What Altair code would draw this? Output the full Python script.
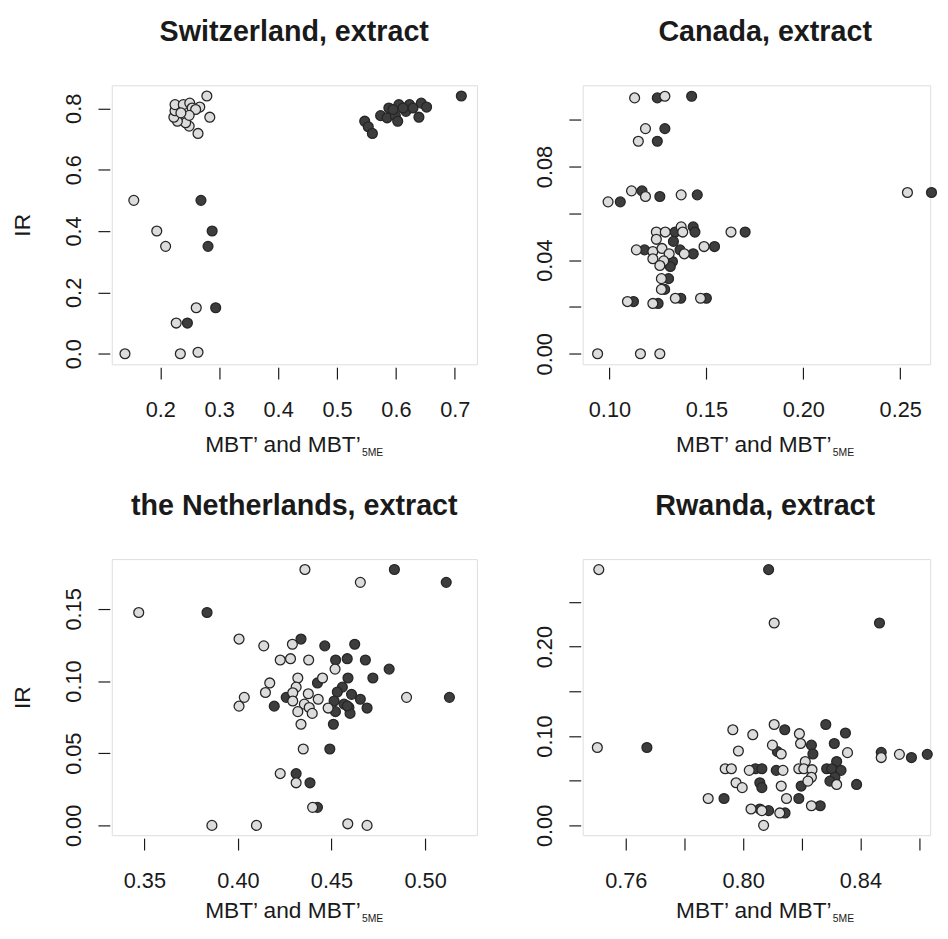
import altair as alt
import pandas as pd

FONT = "Liberation Sans"
INK = "#1a1a1a"

# ---------------- data ----------------
# Switzerland
sw_l_x = [0.140, 0.155, 0.194, 0.209, 0.227, 0.261, 0.234, 0.264, 0.279, 0.284, 0.264, 0.249,
          0.243, 0.229, 0.223, 0.225, 0.225, 0.239, 0.250, 0.254, 0.267, 0.260, 0.249, 0.235]
sw_l_y = [0.000, 0.500, 0.400, 0.350, 0.100, 0.150, 0.000, 0.005, 0.840, 0.771, 0.718, 0.742,
          0.753, 0.758, 0.771, 0.792, 0.812, 0.812, 0.817, 0.801, 0.804, 0.796, 0.777, 0.785]
sw_d_x = [0.269, 0.288, 0.281, 0.246, 0.294, 0.711, 0.547, 0.553, 0.560, 0.574, 0.585, 0.588,
          0.599, 0.603, 0.605, 0.617, 0.623, 0.629, 0.639, 0.643, 0.652, 0.612, 0.595]
sw_d_y = [0.500, 0.400, 0.350, 0.100, 0.150, 0.840, 0.758, 0.740, 0.718, 0.776, 0.769, 0.801,
          0.776, 0.758, 0.812, 0.790, 0.812, 0.801, 0.771, 0.817, 0.804, 0.801, 0.796]

# Canada
ca_l_x = [0.0939, 0.116, 0.126, 0.113, 0.1286, 0.1186, 0.1149, 0.0993, 0.1114, 0.1186, 0.137,
          0.2537, 0.1627, 0.1488, 0.1139, 0.1242, 0.1288, 0.137, 0.1378, 0.1242, 0.1224, 0.1271,
          0.1308, 0.1386, 0.1224, 0.128, 0.126, 0.1268, 0.1268, 0.1093, 0.1224, 0.134, 0.147]
ca_l_y = [0.0, 0.0, 0.0, 0.1093, 0.110, 0.0962, 0.0908, 0.0649, 0.0696, 0.0672, 0.0679,
          0.0689, 0.052, 0.0458, 0.0444, 0.052, 0.052, 0.0542, 0.052, 0.0489, 0.0437, 0.045,
          0.0427, 0.0427, 0.0406, 0.0397, 0.0377, 0.0321, 0.0275, 0.0223, 0.0215, 0.0237, 0.0237]
ca_d_x = [0.1247, 0.1424, 0.1286, 0.1247, 0.1056, 0.1168, 0.126, 0.1453, 0.2661, 0.170, 0.1542,
          0.1181, 0.1339, 0.1432, 0.1441, 0.1330, 0.1432, 0.1364, 0.1325, 0.1314, 0.1305, 0.1285,
          0.1124, 0.1251, 0.1368, 0.150]
ca_d_y = [0.1093, 0.110, 0.0962, 0.0908, 0.0649, 0.0696, 0.0672, 0.0679, 0.0689, 0.052, 0.0458,
          0.0444, 0.052, 0.0542, 0.052, 0.0480, 0.0427, 0.0444, 0.0394, 0.0373, 0.0321, 0.0275,
          0.0223, 0.0215, 0.0237, 0.0237]

# the Netherlands
nl_l_x = [0.347, 0.4358, 0.4654, 0.4006, 0.4138, 0.4291, 0.4226, 0.4281, 0.4378, 0.4519, 0.4452,
          0.432, 0.4311, 0.417, 0.4147, 0.4034, 0.4006, 0.4293, 0.4293, 0.4376, 0.4355, 0.4381,
          0.432, 0.4397, 0.4429, 0.4482, 0.4337, 0.4901, 0.4349, 0.4226, 0.4311, 0.4399, 0.3861,
          0.4099, 0.4587, 0.469]
nl_l_y = [0.1475, 0.1773, 0.1684, 0.1291, 0.1244, 0.1255, 0.1146, 0.1155, 0.1146, 0.1083, 0.1021,
          0.1021, 0.0958, 0.0987, 0.0921, 0.0887, 0.0826, 0.0919, 0.0862, 0.0912, 0.084, 0.0817,
          0.0788, 0.0776, 0.0874, 0.0813, 0.0701, 0.0887, 0.0529, 0.0359, 0.0295, 0.0125, 0.0,
          0.0, 0.0011, 0.0]
nl_d_x = [0.3835, 0.4836, 0.5113, 0.4337, 0.4464, 0.4624, 0.4522, 0.4584, 0.4681, 0.4808, 0.4721,
          0.4588, 0.4558, 0.4425, 0.4531, 0.4607, 0.4258, 0.4194, 0.4514, 0.4654, 0.4567, 0.4593,
          0.4521, 0.4599, 0.469, 0.513, 0.451, 0.4491, 0.4311, 0.4385, 0.4425, 0.4584]
nl_d_y = [0.1475, 0.1773, 0.1684, 0.1291, 0.1244, 0.1255, 0.1146, 0.1155, 0.1146, 0.1083, 0.1021,
          0.1021, 0.0958, 0.0987, 0.0924, 0.0908, 0.0887, 0.0826, 0.0862, 0.0874, 0.084, 0.0817,
          0.0788, 0.0776, 0.0813, 0.0887, 0.0701, 0.0529, 0.0359, 0.0295, 0.0125, 0.0828]

# Rwanda
rw_l_x = [0.7508, 0.7503, 0.8106, 0.8106, 0.7965, 0.8033, 0.8192, 0.8100, 0.8196, 0.8130, 0.7984,
          0.8356, 0.8471, 0.8533, 0.7939, 0.7960, 0.8021, 0.8136, 0.8190, 0.8212, 0.8207, 0.8235,
          0.8233, 0.8221, 0.7976, 0.7997, 0.8130, 0.8319, 0.8148, 0.7881, 0.8027, 0.8064, 0.8125,
          0.8233, 0.8070]
rw_l_y = [0.2863, 0.0872, 0.2265, 0.1129, 0.1070, 0.1015, 0.1026, 0.0898, 0.0916, 0.0799, 0.0832,
          0.0814, 0.0759, 0.0795, 0.0634, 0.0634, 0.0616, 0.0616, 0.0634, 0.0715, 0.0634, 0.0623,
          0.0539, 0.0495, 0.0477, 0.0422, 0.0440, 0.0458, 0.0301, 0.0301, 0.0183, 0.0165, 0.0139,
          0.0220, 0.0000]
rw_d_x = [0.8087, 0.7672, 0.8465, 0.8142, 0.8282, 0.8349, 0.8233, 0.8311, 0.8238, 0.8117, 0.8574,
          0.8628, 0.8471, 0.8042, 0.8064, 0.8113, 0.8285, 0.8319, 0.8302, 0.8334, 0.8313, 0.8296,
          0.8057, 0.8064, 0.8198, 0.8387, 0.8190, 0.7935, 0.8057, 0.8087, 0.8143, 0.8263]
rw_d_y = [0.2863, 0.0872, 0.2265, 0.1070, 0.1129, 0.1034, 0.0898, 0.0916, 0.0799, 0.0825, 0.0759,
          0.0795, 0.0817, 0.0634, 0.0634, 0.0616, 0.0634, 0.0715, 0.0634, 0.0616, 0.0539, 0.0495,
          0.0477, 0.0422, 0.0440, 0.0458, 0.0301, 0.0301, 0.0183, 0.0165, 0.0139, 0.0220]

series_names = ["MBT'", "MBT'5ME"]
series_colors = ["#dcdcdc", "#3d3d3d"]

TITLE_CX = 186.4  # panel titles are centred on the full (uncropped) panel width


def label_expr(shown, fmt):
    conds = " || ".join(f"abs(datum.value - {v}) < 1e-6" for v in shown)
    return f"({conds}) ? format(datum.value, '{fmt}') : ''"


def panel(title, lx, ly, dx, dy, xdom, ydom, xticks, xshow, xfmt, yticks, yshow, yfmt,
          width, height, xtitle_base, ir_title):
    df = pd.concat([
        pd.DataFrame({"x": dx, "ir": dy, "s": series_names[1]}),
        pd.DataFrame({"x": lx, "ir": ly, "s": series_names[0]}),
    ], ignore_index=True)
    df["o"] = range(len(df))

    yaxis_kw = dict(
        values=yticks, labelExpr=label_expr(yshow, yfmt), labelAngle=270,
        labelAlign="center", labelBaseline="alphabetic", labelPadding=18.2,
        labelFontSize=22.2, labelFont=FONT, labelColor=INK, tickSize=12.1,
        tickColor=INK, tickWidth=1.2, offset=2, domain=False, grid=False,
        labelOverlap=False, labelFlush=False,
    )
    if ir_title:
        yaxis_kw.update(title="IR", titleFontSize=23.2, titleFont=FONT, titleFontWeight="normal",
                        titleColor=INK, titleAngle=270, titleAlign="center",
                        titleBaseline="alphabetic", titleX=-82.1, titleY=height / 2)
    else:
        yaxis_kw.update(title=None)

    pts = alt.Chart(df).mark_circle(size=102, stroke="#262626", strokeWidth=1.3, opacity=1).encode(
        x=alt.X("x:Q", scale=alt.Scale(domain=xdom, nice=False, zero=False),
                axis=alt.Axis(values=xticks, labelExpr=label_expr(xshow, xfmt),
                              labelFontSize=22.2, labelFont=FONT, labelColor=INK,
                              labelBaseline="alphabetic", labelPadding=38.7, tickSize=12.1,
                              tickColor=INK, tickWidth=1.2, offset=3, domain=False, grid=False,
                              labelOverlap=False, labelFlush=False,
                              title="MBT\u2019 and MBT\u2019", titleFontSize=23.2, titleFont=FONT,
                              titleFontWeight="normal", titleColor=INK, titleAlign="right",
                              titleBaseline="alphabetic", titleX=253.8, titleY=xtitle_base - 3)),
        y=alt.Y("ir:Q", scale=alt.Scale(domain=ydom, nice=False, zero=False),
                axis=alt.Axis(**yaxis_kw)),
        fill=alt.Fill("s:N", scale=alt.Scale(domain=series_names, range=series_colors), legend=None),
        order=alt.Order("o:Q"),
    )
    sub = alt.Chart(pd.DataFrame({"t": ["5ME"]})).mark_text(
        align="left", baseline="alphabetic", fontSize=10.6, font=FONT, color=INK
    ).encode(x=alt.value(255.5), y=alt.value(height + xtitle_base + 4.6), text="t:N")
    ttl = alt.Chart(pd.DataFrame({"t": [title]})).mark_text(
        align="center", baseline="alphabetic", fontSize=29.3, fontWeight="bold", font=FONT, color=INK
    ).encode(x=alt.value(TITLE_CX), y=alt.value(-45.2), text="t:N")

    return alt.layer(pts, sub, ttl).properties(width=width, height=height)


p_sw = panel("Switzerland, extract", sw_l_x, sw_l_y, sw_d_x, sw_d_y,
             [0.1176, 0.7375], [-0.0344, 0.875],
             [0.2, 0.3, 0.4, 0.5, 0.6, 0.7], [0.2, 0.3, 0.4, 0.5, 0.6, 0.7], ".1f",
             [0.0, 0.2, 0.4, 0.6, 0.8], [0.0, 0.2, 0.4, 0.6, 0.8], ".1f",
             373, 285, 88.9, True)
p_ca = panel("Canada, extract", ca_l_x, ca_l_y, ca_d_x, ca_d_y,
             [0.0862, 0.26544], [-0.0045, 0.1147],
             [0.10, 0.15, 0.20, 0.25], [0.10, 0.15, 0.20, 0.25], ".2f",
             [0.0, 0.02, 0.04, 0.06, 0.08, 0.10], [0.0, 0.04, 0.08], ".2f",
             355, 285, 88.9, False)
p_nl = panel("the Netherlands, extract", nl_l_x, nl_l_y, nl_d_x, nl_d_y,
             [0.3326, 0.5277], [-0.0068, 0.1845],
             [0.35, 0.40, 0.45, 0.50], [0.35, 0.40, 0.45, 0.50], ".2f",
             [0.0, 0.05, 0.10, 0.15], [0.0, 0.05, 0.10, 0.15], ".2f",
             373, 282, 84, True)
p_rw = panel("Rwanda, extract", rw_l_x, rw_l_y, rw_d_x, rw_d_y,
             [0.7453, 0.8638], [-0.011, 0.298],
             [0.76, 0.78, 0.80, 0.82, 0.84, 0.86], [0.76, 0.80, 0.84], ".2f",
             [0.0, 0.05, 0.10, 0.15, 0.20, 0.25], [0.0, 0.10, 0.20], ".2f",
             355, 282, 84, False)

chart = alt.concat(
    p_sw, p_ca, p_nl, p_rw, columns=2, bounds="flush",
    spacing={"row": 199, "column": 108},
).properties(
    padding={"left": 2, "top": 0, "right": 0, "bottom": 0}
).configure_view(stroke="#222222", strokeWidth=1.3).configure(background="white")

chart.save("out.html", embed_options={"renderer": "svg", "actions": False})
